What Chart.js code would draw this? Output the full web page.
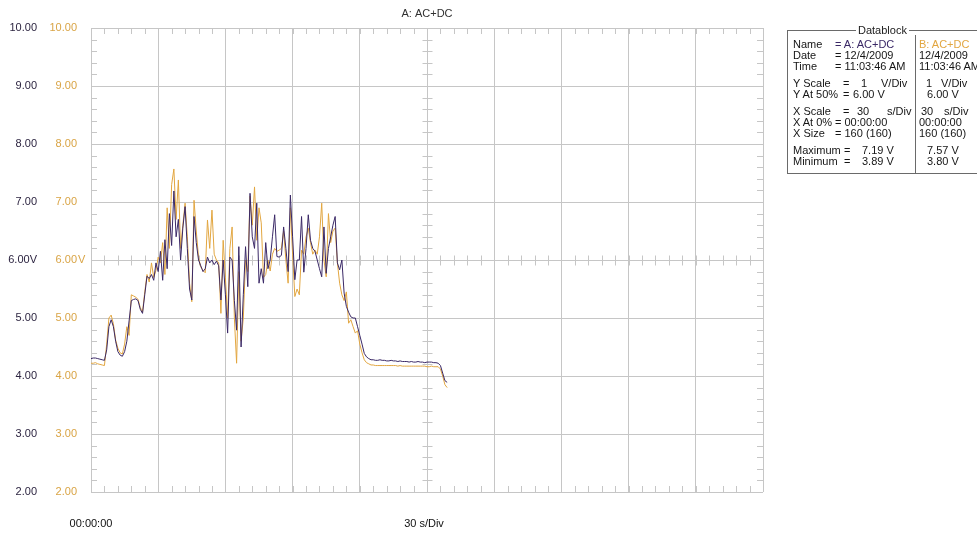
<!DOCTYPE html>
<html>
<head>
<meta charset="utf-8">
<script src="https://cdn.jsdelivr.net/npm/chart.js@4.4.0/dist/chart.umd.min.js"></script>
<style>
    html, body { margin: 0; padding: 0; background: #fff; width: 977px; height: 534px; overflow: hidden; }
    #tela { position: relative; width: 977px; height: 534px; }
    #grafico { position: absolute; left: 0; top: 0; }
    #datablock { position: absolute; left: 787px; top: 30px; width: 240px; height: 142px; border: 1px solid #6a6a6a; }
    #datablock span { position: absolute; white-space: pre; font: 11px Arial, "Liberation Sans", sans-serif; color: #151515; line-height: 12px; }
    #datablock .titulo { background: #fff; padding: 0 2px; color: #202020; }
    #datablock .sep { position: absolute; left: 127px; top: 4px; width: 1px; height: 138px; background: #6a6a6a; }
</style>
</head>
<body>
<div id="tela">
    <canvas id="grafico" width="977" height="534"></canvas>
    <div id="datablock"></div>
</div>
<script>
// canal A (roxo) e canal B (laranja), uma amostra por segundo
let intervaloAmostra = 1;
let canalA = [
    4.30, 4.31, 4.31, 4.30, 4.29, 4.28, 4.27, 4.45, 4.85, 4.97,
    4.85, 4.60, 4.42, 4.36, 4.34, 4.42, 4.60, 4.95, 5.30, 5.32,
    5.33, 5.30, 5.15, 5.08, 5.40, 5.72, 5.68, 5.75, 5.65, 5.95,
    5.80, 6.15, 5.65, 6.35, 5.85, 6.80, 6.25, 7.19, 6.40, 6.70,
    6.00, 6.55, 6.92, 6.20, 5.50, 5.31, 6.75, 6.30, 6.00, 5.90,
    5.80, 5.85, 6.05, 5.95, 6.00, 5.92, 5.98, 5.90, 5.31, 6.00,
    5.40, 4.74, 6.05, 6.00, 5.30, 4.79, 6.23, 4.50, 5.40, 6.23,
    5.54, 7.15, 6.40, 6.20, 6.98, 5.60, 5.85, 5.60, 6.30, 5.85,
    6.00, 6.40, 6.78, 6.06, 6.05, 6.08, 6.57, 6.20, 5.80, 7.12,
    6.40, 5.66, 6.00, 6.00, 6.75, 5.79, 6.20, 6.78, 6.34, 6.20,
    6.15, 6.00, 5.85, 5.71, 6.57, 5.77, 6.20, 6.40, 6.60, 6.75,
    5.95, 5.83, 6.00, 5.43, 5.20, 5.10, 5.02, 5.00, 5.00, 4.85,
    4.70, 4.55, 4.39, 4.33, 4.30, 4.28, 4.28, 4.27, 4.27, 4.28,
    4.27, 4.27, 4.26, 4.26, 4.27, 4.26, 4.26, 4.25, 4.26, 4.25,
    4.25, 4.25, 4.24, 4.25, 4.24, 4.24, 4.25, 4.24, 4.24, 4.23,
    4.24, 4.24, 4.24, 4.23, 4.23, 4.22, 4.18, 4.05, 3.92, 3.89
];
let canalB = [
    4.22, 4.22, 4.23, 4.21, 4.20, 4.19, 4.18, 4.55, 5.00, 5.05,
    4.90, 4.62, 4.48, 4.40, 4.38, 4.55, 4.85, 4.70, 5.40, 5.38,
    5.36, 5.32, 5.18, 5.10, 5.45, 5.75, 5.62, 5.95, 5.70, 5.82,
    6.05, 5.95, 6.30, 5.75, 6.90, 6.20, 7.30, 7.57, 6.70, 7.38,
    6.20, 6.60, 6.98, 6.40, 5.60, 5.28, 7.03, 6.50, 6.05, 5.88,
    5.82, 5.78, 6.69, 6.20, 6.86, 6.10, 6.00, 5.95, 5.08, 6.34,
    5.70, 5.00, 6.20, 6.57, 5.00, 4.22, 5.80, 4.60, 5.00, 6.00,
    5.80, 7.10, 6.60, 7.26, 6.34, 6.90, 6.64, 5.70, 5.75, 6.00,
    5.81, 6.10, 6.20, 6.15, 6.17, 6.20, 6.50, 6.00, 5.60, 6.90,
    6.10, 5.37, 5.50, 5.40, 6.17, 6.10, 6.40, 6.55, 6.30, 6.10,
    6.17, 6.10, 6.40, 6.98, 6.00, 5.71, 6.80, 6.30, 6.50, 6.55,
    5.95, 5.60, 5.40, 5.30, 5.45, 4.91, 4.97, 4.85, 4.74, 4.78,
    4.55, 4.40, 4.28, 4.23, 4.21, 4.19, 4.19, 4.18, 4.18, 4.18,
    4.18, 4.18, 4.18, 4.18, 4.18, 4.18, 4.18, 4.17, 4.18, 4.17,
    4.17, 4.17, 4.17, 4.17, 4.17, 4.17, 4.17, 4.17, 4.17, 4.17,
    4.16, 4.16, 4.17, 4.16, 4.16, 4.16, 4.12, 4.00, 3.85, 3.80
];

// eixos: 10 divisoes de 30 s, 8 divisoes de 1 V
let tempoMax = 300;
let passoTempo = 30;
let voltMin = 2;
let voltMax = 10;
let valoresEixoY = [2, 3, 4, 5, 6, 7, 8, 9, 10];
let rotulosEixoY = ["2.00", "3.00", "4.00", "5.00", "6.00V", "7.00", "8.00", "9.00", "10.00"];
let subdivTempo = 6;
let subdivVolt = 0.2;
let tempoCentro = 150;
let voltCentro = 6;

let corA = "#3a2866";
let corB = "#e2a640";
let corGrade = "#c6c6c6";
let fonte = "11px Arial, 'Liberation Sans', sans-serif";

function pontos(valores) {
    return valores.map((v, i) => ({ x: i * intervaloAmostra, y: v }));
}

// tracinhos das subdivisoes (bordas e cruz central)
const pluginGrade = {
    id: "gradeOsciloscopio",
    beforeDatasetsDraw(chart) {
        const { ctx, chartArea: area, scales: { x, y } } = chart;
        ctx.save();
        ctx.strokeStyle = corGrade;
        ctx.lineWidth = 1;
        ctx.beginPath();
        let xc = Math.round(x.getPixelForValue(tempoCentro)) + 0.5;
        let yc = Math.round(y.getPixelForValue(voltCentro)) + 0.5;
        for (let v = voltMin; v <= voltMax + 0.001; v += subdivVolt) {
            let py = Math.round(y.getPixelForValue(v)) + 0.5;
            ctx.moveTo(area.left, py); ctx.lineTo(area.left + 6, py);
            ctx.moveTo(area.right - 6, py); ctx.lineTo(area.right, py);
            ctx.moveTo(xc - 5, py); ctx.lineTo(xc + 5, py);
        }
        for (let t = 0; t <= tempoMax; t += subdivTempo) {
            let px = Math.round(x.getPixelForValue(t)) + 0.5;
            ctx.moveTo(px, area.top); ctx.lineTo(px, area.top + 6);
            ctx.moveTo(px, area.bottom - 6); ctx.lineTo(px, area.bottom);
            ctx.moveTo(px, yc - 5); ctx.lineTo(px, yc + 5);
        }
        ctx.stroke();
        ctx.restore();
    },
    afterDraw(chart) {
        const { ctx, chartArea: area, scales: { x, y } } = chart;
        ctx.save();
        ctx.font = fonte;
        ctx.textBaseline = "middle";
        for (let i = 0; i < valoresEixoY.length; i++) {
            let py = y.getPixelForValue(valoresEixoY[i]);
            let texto = rotulosEixoY[i];
            ctx.fillStyle = "#2c2440";
            ctx.textAlign = "right";
            ctx.fillText(texto, 37, py);
            // coluna laranja: numero alinhado a direita, "V" depois
            let numero = texto.replace("V", "");
            ctx.fillStyle = "#d9a445";
            ctx.fillText(numero, 77, py);
            if (texto.endsWith("V")) {
                ctx.textAlign = "left";
                ctx.fillText("V", 78, py);
            }
        }
        ctx.fillStyle = "#303030";
        ctx.textAlign = "center";
        ctx.fillText("A: AC+DC", x.getPixelForValue(tempoCentro), 14);
        ctx.fillStyle = "#101010";
        ctx.fillText("00:00:00", area.left, 524);
        ctx.fillText("30 s/Div", x.getPixelForValue(tempoCentro) - 3, 524);
        ctx.restore();
    }
};

let ctx = document.getElementById("grafico").getContext("2d");
let grafico = new Chart(ctx, {
    type: "line",
    data: {
        datasets: [
            { label: "A: AC+DC", data: pontos(canalA), borderColor: corA, borderWidth: 1, pointRadius: 0, tension: 0 },
            { label: "B: AC+DC", data: pontos(canalB), borderColor: corB, borderWidth: 1, pointRadius: 0, tension: 0 }
        ]
    },
    options: {
        responsive: false,
        animation: false,
        layout: { padding: { left: 91, right: 214, top: 28, bottom: 42 } },
        plugins: { legend: { display: false }, tooltip: { enabled: false } },
        scales: {
            x: {
                type: "linear", min: 0, max: tempoMax,
                ticks: { display: false, stepSize: passoTempo },
                grid: { color: corGrade, drawTicks: false },
                border: { display: false }
            },
            y: {
                min: voltMin, max: voltMax,
                ticks: { display: false, stepSize: 1 },
                grid: { color: corGrade, drawTicks: false },
                border: { display: false }
            }
        }
    },
    plugins: [pluginGrade]
});

// quadro de dados (texto real em HTML)
let db = document.getElementById("datablock");
let celulas = [
    // [texto, x, y, cor]  posicoes relativas ao quadro
    ["Datablock", 68, -7, null, "titulo"],
    ["Name", 5, 7], ["= A: AC+DC", 47, 7, corA], ["B: AC+DC", 131, 7, corB],
    ["Date", 5, 18], ["= 12/4/2009", 47, 18], ["12/4/2009", 131, 18],
    ["Time", 5, 29], ["= 11:03:46 AM", 47, 29], ["11:03:46 AM", 131, 29],
    ["Y Scale", 5, 46], ["=", 55, 46], ["1", 73, 46], ["V/Div", 93, 46], ["1", 138, 46], ["V/Div", 153, 46],
    ["Y At 50%", 5, 57], ["=", 55, 57], ["6.00 V", 65, 57], ["6.00 V", 139, 57],
    ["X Scale", 5, 74], ["=", 55, 74], ["30", 69, 74], ["s/Div", 99, 74], ["30", 133, 74], ["s/Div", 156, 74],
    ["X At 0%", 5, 85], ["= 00:00:00", 47, 85], ["00:00:00", 131, 85],
    ["X Size", 5, 96], ["= 160 (160)", 47, 96], ["160 (160)", 131, 96],
    ["Maximum", 5, 113], ["=", 56, 113], ["7.19 V", 74, 113], ["7.57 V", 139, 113],
    ["Minimum", 5, 124], ["=", 56, 124], ["3.89 V", 74, 124], ["3.80 V", 139, 124]
];
celulas.forEach(c => {
    let s = document.createElement("span");
    s.textContent = c[0];
    s.style.left = c[1] + "px";
    s.style.top = c[2] + "px";
    if (c[3]) s.style.color = c[3];
    if (c[4]) s.className = c[4];
    db.appendChild(s);
});
let sep = document.createElement("div");
sep.className = "sep";
db.appendChild(sep);
</script>
</body>
</html>
